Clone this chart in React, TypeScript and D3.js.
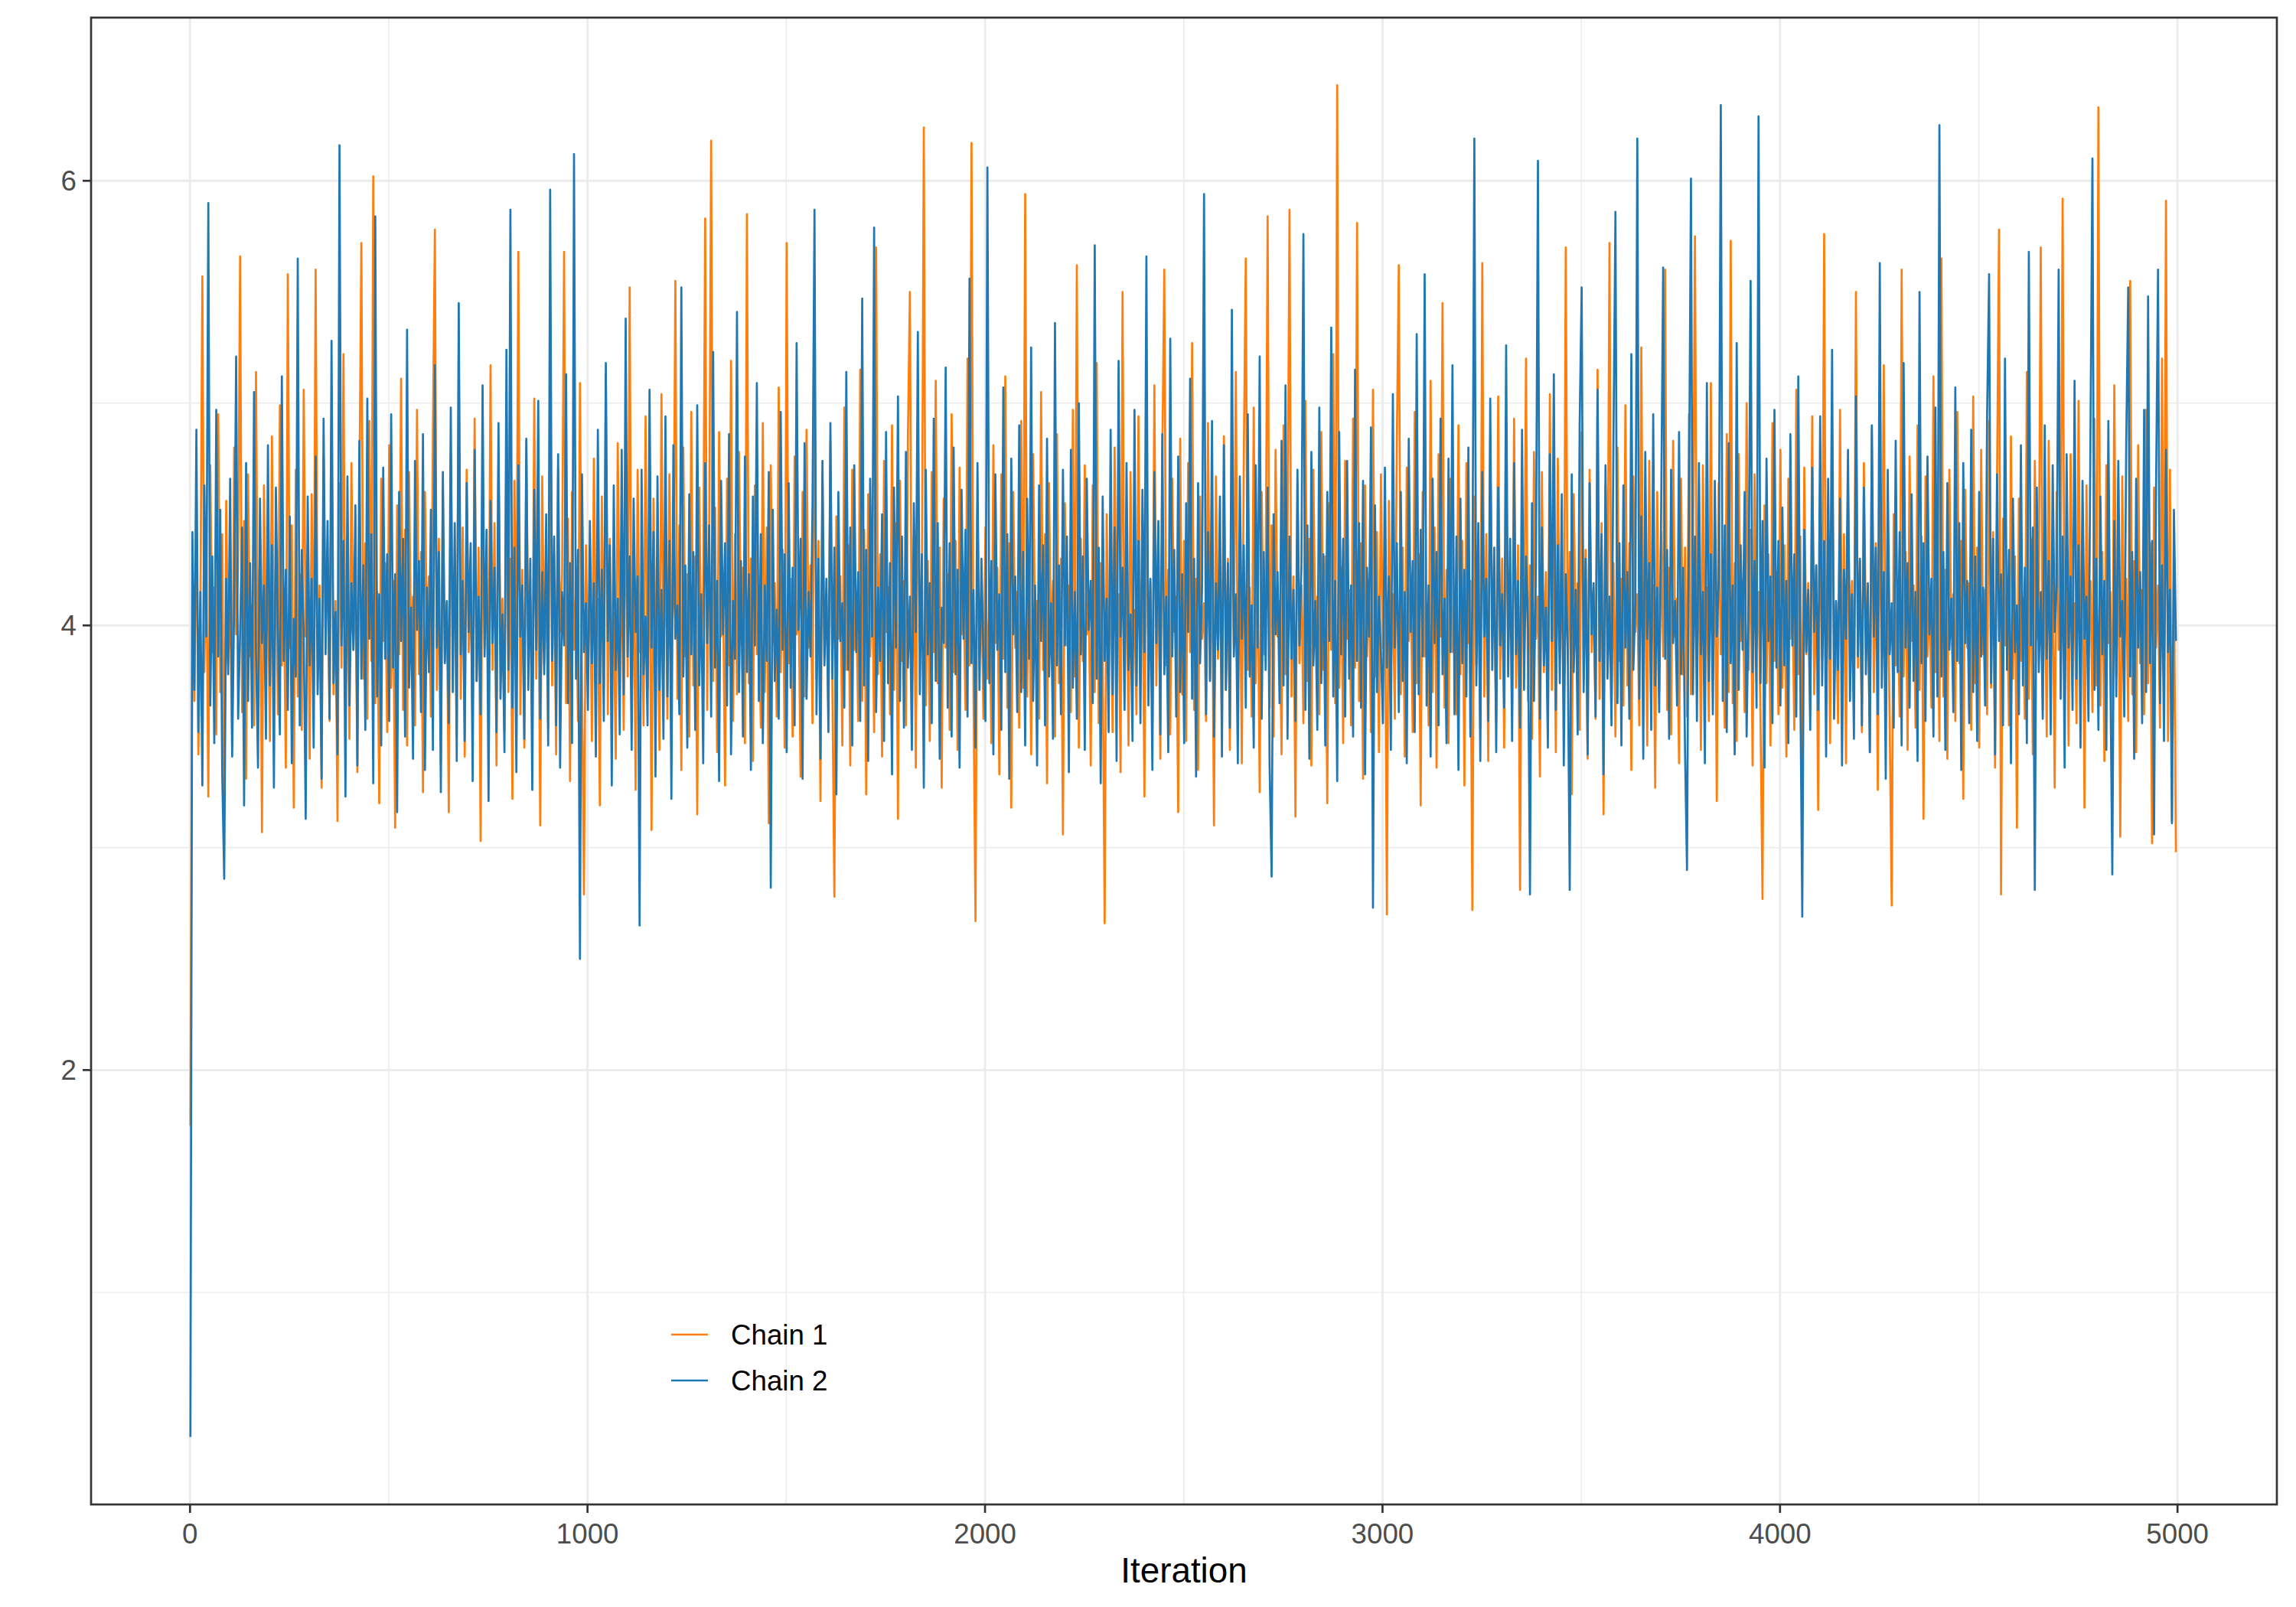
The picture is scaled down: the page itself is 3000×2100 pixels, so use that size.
import React, { useEffect, useRef } from "react";
import * as d3 from "d3";

// trace of two MCMC chains, one stored draw every 5 iterations
const chainNames = ["Chain 1", "Chain 2"];
const chainColors = ["#ff7f0e", "#1f77b4"];
const iterStep = 5;
const nIter = 5000;

const xTicks = [0, 1000, 2000, 3000, 4000, 5000];
const xMinorTicks = [500, 1500, 2500, 3500, 4500];
const yTicks = [2, 4, 6];
const yMinorTicks = [1, 3, 5];

// Chain 1, iterations 1-1000
const chain1Part1 = [
  1.75, 4.28, 3.66, 4.61, 3.42, 4.05, 5.57, 3.79, 4.34, 3.23, 4.72, 3.88, 4.17, 3.51, 4.95, 3.7, 4.41, 3.14, 4.56, 3.83,
  4.12, 3.45, 4.8, 3.96, 4.26, 5.66, 3.61, 4.47, 3.31, 4.68, 3.86, 4.09, 3.55, 5.14, 3.74, 4.38, 3.07, 4.63, 3.92, 4.2,
  3.48, 4.85, 3.77, 4.31, 3.6, 4.99, 3.82, 4.14, 3.36, 5.58, 3.9, 4.45, 3.18, 4.7, 3.68, 4.23, 3.53, 5.06, 3.95, 4.36,
  3.4, 4.59, 3.73, 5.6, 3.85, 4.18, 3.27, 4.76, 3.97, 4.3, 3.57, 4.88, 3.69, 4.11, 3.12, 4.64, 3.81, 5.22, 3.63, 4.4,
  3.49, 4.73, 3.89, 4.24, 3.34, 4.57, 5.72, 3.76, 4.37, 3.58, 4.92, 3.84, 6.02, 3.65, 4.15, 3.2, 4.66, 3.93, 4.28, 3.52,
  4.81, 3.72, 4.2, 3.09, 4.54, 3.87, 5.11, 3.62, 4.43, 3.46, 4.69, 3.91, 4.13, 3.55, 4.97, 3.78, 4.33, 3.25, 4.6, 3.98,
  4.22, 3.59, 4.86, 5.78, 3.71, 4.39, 3.38, 4.62, 3.84, 4.1, 3.16, 4.77, 3.95, 4.27, 3.5, 5.26, 3.67, 4.44, 3.41, 4.7,
  3.88, 4.16, 3.56, 4.93, 3.75, 4.35, 3.03, 4.58, 3.9, 4.21, 3.63, 5.17, 3.8, 4.46, 3.37, 4.74, 3.96, 4.12, 3.52, 4.89,
  3.7, 4.3, 3.22, 4.65, 3.86, 5.68, 3.6, 4.25, 3.45, 4.83, 3.92, 4.14, 3.58, 5.02, 3.76, 4.4, 3.1, 4.67, 3.83, 4.19,
  3.54, 4.9, 3.73, 4.32, 3.42, 4.71, 3.97, 4.23, 5.68, 3.65, 4.48, 3.3, 4.6, 3.89, 4.17, 3.57, 5.09, 3.78, 2.79, 4.36,
];

// Chain 1, iterations 1001-2000
const chain1Part2 = [
  3.81, 4.27, 3.48, 4.75, 3.93, 4.12, 3.19, 4.58, 3.72, 5.13, 3.6, 4.39, 3.85, 4.06, 3.4, 4.82, 3.96, 4.24, 3.53, 4.64,
  3.77, 5.52, 3.63, 4.33, 3.26, 4.7, 3.88, 4.16, 3.55, 4.94, 3.71, 4.42, 3.08, 4.57, 3.91, 4.2, 3.44, 5.04, 3.8, 4.35,
  3.58, 4.68, 3.94, 4.1, 5.55, 3.67, 4.45, 3.35, 4.8, 3.86, 4.23, 3.5, 4.96, 3.73, 4.31, 3.15, 4.62, 3.9, 4.18, 5.83,
  3.62, 4.37, 6.18, 3.75, 4.53, 3.43, 4.87, 3.95, 4.14, 3.28, 4.66, 3.82, 5.19, 3.57, 4.41, 3.69, 4.78, 3.98, 4.26, 3.47,
  5.85, 3.74, 4.3, 3.39, 4.63, 3.87, 4.09, 3.54, 4.91, 3.7, 4.44, 3.11, 4.72, 3.92, 4.19, 3.59, 5.07, 3.79, 4.34, 3.45,
  5.72, 3.83, 4.21, 3.5, 4.76, 3.96, 4.13, 3.32, 4.6, 3.68, 4.88, 3.9, 4.27, 3.56, 5.23, 3.76, 4.38, 3.21, 4.67, 3.85,
  4.15, 3.61, 4.83, 3.73, 2.78, 4.49, 3.94, 4.22, 3.46, 4.98, 3.8, 4.36, 3.37, 4.7, 3.89, 4.1, 3.57, 5.15, 3.66, 4.43,
  3.24, 4.59, 3.86, 4.25, 3.52, 5.7, 3.78, 4.32, 3.41, 4.74, 3.97, 4.17, 3.6, 4.9, 3.71, 4.46, 3.13, 4.65, 3.84, 4.2,
  3.55, 4.85, 5.5, 3.69, 4.4, 3.36, 4.78, 3.93, 4.12, 6.24, 3.64, 4.29, 3.48, 4.69, 3.88, 5.1, 3.74, 4.35, 3.27, 4.57,
  3.9, 4.23, 3.53, 4.95, 3.79, 4.38, 3.44, 4.71, 3.96, 4.14, 3.62, 5.2, 3.82, 6.17, 3.7, 2.67, 4.52, 3.87, 4.18, 3.58,
];

// Chain 1, iterations 2001-3000
const chain1Part3 = [
  4.44, 3.76, 4.09, 3.47, 4.81, 3.92, 4.26, 3.33, 4.68, 3.85, 5.12, 3.63, 4.37, 3.18, 4.6, 3.9, 4.15, 3.54, 4.92, 3.72,
  5.94, 3.68, 4.33, 3.42, 4.77, 3.95, 4.11, 3.58, 5.05, 3.8, 4.41, 3.29, 4.64, 3.87, 4.2, 3.5, 4.86, 3.74, 4.3, 3.06,
  4.55, 3.91, 4.18, 3.61, 4.97, 3.77, 5.62, 3.45, 4.39, 3.84, 4.72, 3.96, 4.12, 3.37, 4.63, 3.7, 5.18, 3.56, 4.28, 3.88,
  2.66, 4.5, 3.79, 4.24, 3.52, 4.8, 3.93, 4.14, 3.34, 5.5, 3.67, 4.36, 3.46, 4.69, 3.86, 4.07, 3.6, 4.94, 3.75, 4.32,
  3.23, 4.61, 3.89, 4.19, 3.55, 5.08, 3.73, 4.43, 3.4, 4.75, 5.6, 3.82, 4.25, 3.51, 4.66, 3.97, 4.13, 3.16, 4.84, 3.69,
  4.38, 3.48, 4.73, 3.88, 5.27, 3.62, 4.21, 3.35, 4.58, 3.94, 4.1, 3.57, 4.91, 3.76, 4.34, 3.1, 4.67, 3.85, 4.23, 3.53,
  4.85, 3.71, 4.3, 3.44, 4.62, 3.9, 5.14, 3.66, 4.4, 3.38, 4.76, 5.65, 3.8, 4.17, 3.59, 4.98, 3.74, 4.27, 3.25, 4.6,
  3.87, 4.15, 5.84, 3.63, 4.45, 3.5, 4.79, 3.95, 4.11, 3.42, 4.9, 3.78, 4.35, 5.87, 3.68, 4.22, 3.14, 4.64, 3.83, 4.18,
  3.56, 5.01, 3.75, 4.39, 3.37, 4.7, 3.92, 4.13, 3.6, 4.87, 3.8, 4.31, 3.2, 4.55, 3.89, 5.22, 3.65, 6.43, 3.72, 4.26,
  3.47, 4.74, 3.94, 4.16, 3.55, 4.93, 3.81, 5.81, 3.66, 4.37, 3.31, 4.63, 3.86, 4.2, 3.52, 5.06, 3.77, 4.42, 3.43, 4.68,
];

// Chain 1, iterations 3001-4000
const chain1Part4 = [
  3.9, 4.29, 2.7, 4.56, 3.79, 4.14, 3.58, 4.82, 5.62, 3.69, 4.35, 3.41, 4.71, 3.93, 4.18, 3.52, 4.96, 3.74, 4.32, 3.19,
  4.6, 3.86, 4.1, 3.55, 5.1, 3.7, 4.44, 3.36, 4.77, 3.95, 5.45, 3.63, 4.25, 3.47, 4.66, 3.88, 4.12, 3.6, 4.9, 3.78,
  4.38, 3.28, 4.73, 3.92, 4.2, 2.72, 4.58, 3.82, 4.15, 3.54, 5.63, 3.68, 4.41, 3.39, 4.84, 3.97, 4.11, 3.57, 5.03, 3.76,
  4.3, 3.45, 4.65, 3.89, 4.22, 3.6, 4.93, 3.72, 4.36, 2.81, 4.62, 3.85, 5.2, 3.66, 4.27, 3.49, 4.78, 3.94, 4.13, 3.32,
  4.69, 3.79, 4.24, 3.56, 5.04, 3.71, 4.4, 3.43, 4.75, 3.9, 4.16, 3.62, 5.7, 3.83, 4.33, 3.24, 4.59, 3.96, 4.19, 3.53,
  4.87, 3.75, 4.34, 3.4, 4.7, 3.88, 4.09, 3.58, 5.15, 3.67, 4.46, 3.15, 4.63, 3.92, 5.72, 3.61, 4.28, 3.5, 4.8, 3.84,
  4.21, 3.64, 4.99, 3.73, 4.37, 3.35, 4.67, 3.97, 4.14, 3.55, 5.25, 3.81, 4.3, 3.46, 4.74, 3.89, 4.18, 3.27, 4.6, 3.7,
  4.42, 3.86, 5.6, 3.62, 4.26, 3.51, 4.83, 3.95, 4.12, 3.38, 4.66, 3.78, 4.35, 3.59, 4.95, 3.69, 4.22, 5.75, 3.83, 4.31,
  3.44, 4.72, 3.91, 4.17, 3.57, 5.09, 3.76, 4.39, 3.21, 4.64, 3.87, 4.11, 3.54, 4.86, 3.7, 5.73, 3.65, 4.28, 3.48, 4.77,
  3.93, 4.2, 3.61, 5.0, 3.8, 4.43, 3.37, 4.68, 3.89, 4.15, 3.56, 2.77, 4.54, 3.74, 4.32, 3.46, 4.91, 3.84, 4.24, 3.6,
];

// Chain 1, iterations 4001-5000
const chain1Part5 = [
  4.79, 3.72, 4.36, 3.41, 4.66, 3.94, 4.13, 3.53, 5.06, 3.78, 4.4, 3.3, 4.71, 3.87, 4.19, 3.62, 4.94, 3.69, 4.27, 3.17,
  4.58, 3.85, 5.76, 3.66, 4.34, 3.47, 4.8, 3.92, 4.1, 3.56, 4.97, 3.75, 4.41, 3.38, 4.64, 3.9, 4.2, 3.6, 5.5, 3.81,
  4.29, 3.52, 4.73, 3.96, 4.15, 3.43, 4.88, 3.7, 4.37, 3.26, 4.62, 3.88, 5.17, 3.64, 4.23, 3.55, 2.74, 4.5, 3.82, 4.12,
  3.59, 5.6, 3.77, 4.33, 3.44, 4.76, 3.93, 4.18, 3.54, 4.9, 3.71, 4.4, 3.13, 4.67, 3.86, 4.11, 3.63, 5.12, 3.79, 4.3,
  3.48, 5.65, 3.68, 4.25, 3.4, 4.7, 3.95, 4.14, 3.57, 4.96, 3.83, 4.38, 3.22, 4.61, 3.9, 4.19, 3.53, 5.03, 3.74, 4.35,
  3.45, 4.79, 3.87, 4.16, 3.6, 4.92, 3.72, 4.42, 3.36, 4.65, 5.78, 2.79, 4.48, 3.91, 4.21, 3.55, 4.85, 3.76, 4.31, 3.09,
  4.57, 3.84, 4.12, 3.58, 5.14, 3.67, 4.39, 3.42, 4.74, 3.94, 4.17, 5.7, 3.62, 4.28, 3.5, 4.83, 3.8, 4.23, 3.27, 4.6,
  3.89, 4.14, 5.92, 3.7, 4.36, 3.46, 4.77, 3.97, 4.1, 3.56, 5.01, 3.78, 4.44, 3.18, 4.63, 3.86, 4.2, 3.61, 4.93, 3.73,
  6.33, 3.64, 4.33, 3.39, 4.72, 3.92, 4.15, 3.52, 5.08, 3.77, 4.4, 3.05, 4.67, 3.88, 4.21, 3.57, 5.55, 3.69, 4.29, 3.43,
  4.81, 3.83, 4.16, 3.6, 4.97, 3.74, 4.37, 3.02, 4.62, 3.9, 4.18, 3.54, 5.2, 3.71, 5.91, 3.48, 4.7, 3.12, 4.26, 2.98,
];

// Chain 2, iterations 1-1000
const chain2Part1 = [
  0.35, 4.42, 3.71, 4.88, 3.52, 4.15, 3.28, 4.63, 3.95, 5.9, 3.64, 4.31, 3.47, 4.97, 3.86, 4.52, 3.33, 2.86, 4.21, 3.78,
  4.66, 3.41, 4.09, 5.21, 3.58, 3.97, 4.44, 3.19, 4.73, 3.66, 4.28, 3.54, 5.05, 3.88, 3.36, 4.57, 3.92, 4.18, 3.49, 4.81,
  3.73, 4.36, 3.27, 4.62, 3.99, 3.51, 5.12, 3.84, 4.25, 3.62, 4.49, 3.38, 4.03, 3.77, 5.65, 3.55, 4.34, 3.96, 3.13, 4.58,
  3.82, 4.21, 3.45, 4.76, 3.69, 4.12, 3.31, 4.93, 3.87, 4.47, 3.58, 5.28, 3.74, 4.06, 3.42, 6.16, 3.91, 4.38, 3.23, 4.67,
  3.64, 4.19, 3.89, 4.54, 3.37, 4.83, 3.76, 4.27, 3.53, 5.02, 3.94, 4.41, 3.29, 5.84, 3.68, 4.14, 3.46, 4.71, 3.85, 4.32,
  3.57, 4.95, 3.81, 4.23, 3.16, 4.6, 3.93, 4.39, 3.5, 5.33, 3.72, 4.08, 3.4, 4.74, 3.98, 4.29, 3.61, 4.86, 3.35, 4.17,
  3.79, 4.52, 3.44, 5.17, 3.9, 4.33, 3.25, 4.69, 3.83, 4.11, 3.56, 4.98, 3.7, 4.46, 3.39, 5.45, 3.87, 4.2, 3.48, 4.64,
  3.97, 4.37, 3.3, 4.79, 3.75, 4.13, 3.6, 5.08, 3.86, 4.43, 3.21, 4.56, 3.92, 4.26, 3.52, 4.91, 3.67, 4.05, 3.43, 5.24,
  3.8, 5.87, 3.63, 4.35, 3.34, 4.72, 3.95, 4.18, 3.49, 4.84, 3.71, 4.3, 3.26, 4.61, 3.89, 5.01, 3.58, 4.24, 3.78, 4.5,
  3.46, 5.96, 3.84, 4.4, 3.55, 4.77, 3.36, 4.15, 3.91, 5.13, 3.65, 4.28, 3.47, 6.12, 3.76, 4.34, 2.5, 4.68, 3.88, 4.1,
];

// Chain 2, iterations 1001-2000
const chain2Part2 = [
  3.62, 4.47, 3.83, 4.19, 3.41, 4.88, 3.74, 4.25, 3.57, 5.18, 3.93, 4.36, 3.28, 4.63, 3.8, 4.12, 3.51, 4.79, 3.69, 5.38,
  3.86, 4.31, 3.44, 4.57, 3.97, 4.22, 2.65, 4.7, 3.78, 4.04, 3.55, 5.06, 3.9, 4.42, 3.32, 4.67, 3.71, 4.16, 3.49, 4.94,
  3.68, 4.38, 3.22, 4.81, 3.94, 4.09, 3.6, 5.52, 3.77, 4.27, 3.45, 4.59, 3.87, 4.33, 3.53, 4.99, 3.73, 4.14, 3.38, 4.73,
  3.92, 4.45, 3.59, 5.23, 3.81, 4.2, 3.3, 4.65, 3.96, 4.37, 3.64, 4.86, 3.42, 4.11, 3.85, 5.41, 3.7, 4.29, 3.5, 4.76,
  3.79, 4.23, 3.35, 4.58, 3.91, 5.09, 3.66, 4.41, 3.47, 4.18, 3.84, 4.69, 2.82, 4.52, 3.75, 4.07, 3.58, 4.96, 3.89, 4.32,
  3.43, 4.64, 3.72, 4.26, 3.55, 5.27, 3.98, 4.39, 3.31, 4.82, 3.67, 4.15, 3.86, 4.54, 5.87, 3.6, 4.3, 3.4, 4.74, 3.82,
  4.21, 3.52, 4.91, 3.76, 4.35, 3.24, 4.6, 3.93, 4.1, 3.63, 5.14, 3.8, 4.44, 3.46, 4.72, 3.88, 4.24, 3.57, 5.47, 3.73,
  4.34, 3.39, 4.66, 3.95, 5.79, 3.61, 4.17, 3.84, 4.5, 3.48, 4.87, 3.74, 4.28, 3.33, 4.62, 3.9, 5.03, 3.66, 4.4, 3.54,
  4.78, 3.81, 4.13, 3.44, 4.55, 3.97, 5.32, 3.69, 4.32, 3.27, 4.7, 3.87, 4.19, 3.56, 4.93, 3.75, 4.46, 3.4, 4.08, 3.92,
  5.16, 3.63, 4.37, 3.5, 4.8, 3.78, 4.25, 3.36, 4.61, 3.94, 4.43, 3.59, 5.56, 3.83, 4.16, 3.45, 4.73, 3.71, 4.3, 3.86,
];

// Chain 2, iterations 2001-3000
const chain2Part3 = [
  3.57, 6.06, 3.74, 4.29, 3.42, 4.68, 3.89, 4.14, 3.53, 5.07, 3.79, 4.41, 3.31, 4.75, 3.96, 4.22, 3.61, 4.9, 3.7, 4.33,
  3.46, 4.57, 3.85, 5.25, 3.66, 4.18, 3.37, 4.63, 3.93, 4.36, 3.55, 4.84, 3.77, 4.1, 3.49, 5.36, 3.82, 4.27, 3.6, 4.7,
  3.91, 4.4, 3.34, 4.79, 3.72, 4.15, 3.58, 5.0, 3.87, 4.31, 3.44, 4.66, 3.98, 4.2, 3.65, 5.71, 3.76, 4.35, 3.29, 4.58,
  3.84, 4.12, 3.52, 4.88, 3.69, 4.44, 3.39, 5.19, 3.95, 4.26, 3.62, 4.73, 3.8, 4.05, 3.48, 4.97, 3.73, 4.38, 3.56, 4.61,
  3.88, 5.66, 3.64, 4.21, 3.35, 4.69, 3.92, 4.47, 3.51, 4.86, 3.78, 4.13, 3.43, 5.29, 3.86, 4.34, 3.59, 4.76, 3.7, 4.23,
  3.47, 4.55, 3.97, 5.11, 3.67, 4.3, 3.32, 4.64, 3.83, 4.17, 5.94, 3.6, 4.42, 3.75, 4.92, 3.5, 4.19, 3.89, 4.58, 3.41,
  4.81, 3.71, 4.28, 3.54, 5.42, 3.86, 4.14, 3.38, 4.67, 3.94, 4.36, 3.63, 4.95, 3.77, 4.09, 3.45, 4.72, 3.9, 5.21, 3.58,
  4.33, 3.8, 4.62, 3.36, 2.87, 4.5, 3.96, 4.24, 3.65, 4.83, 3.73, 5.08, 3.49, 4.4, 3.85, 4.16, 3.57, 4.7, 3.91, 4.27,
  5.76, 3.62, 4.45, 3.4, 4.78, 3.82, 4.11, 3.53, 4.98, 3.74, 4.32, 3.46, 4.6, 3.93, 5.34, 3.68, 4.2, 3.3, 4.87, 3.87,
  4.39, 3.59, 4.74, 3.76, 4.18, 3.5, 5.15, 3.84, 4.46, 3.63, 4.65, 3.33, 4.26, 3.95, 4.89, 2.73, 4.54, 3.7, 4.13, 3.88,
];

// Chain 2, iterations 3001-4000
const chain2Part4 = [
  3.56, 4.71, 3.81, 4.22, 3.44, 5.04, 3.9, 4.37, 3.61, 4.6, 3.75, 4.15, 3.38, 4.84, 3.97, 4.29, 3.52, 5.31, 3.69, 4.43,
  3.86, 5.58, 3.64, 4.18, 3.41, 4.66, 3.92, 4.33, 3.55, 4.93, 3.78, 4.12, 3.47, 4.75, 3.88, 5.17, 3.6, 4.4, 3.35, 4.57,
  3.83, 4.25, 3.68, 4.8, 3.5, 4.1, 6.19, 3.73, 4.46, 3.39, 4.69, 3.95, 4.21, 3.57, 5.02, 3.8, 4.35, 3.43, 4.62, 3.91,
  4.14, 3.63, 5.26, 3.77, 4.39, 3.48, 4.73, 3.87, 4.2, 3.54, 4.88, 3.71, 4.31, 3.98, 2.79, 4.55, 3.66, 4.27, 6.09, 3.58,
  4.44, 3.82, 4.08, 3.45, 4.77, 3.93, 5.13, 3.62, 4.36, 3.74, 4.59, 3.37, 4.23, 3.89, 2.81, 4.68, 3.79, 4.16, 3.51, 4.91,
  5.52, 3.7, 4.3, 3.42, 4.64, 3.96, 4.19, 3.59, 5.06, 3.84, 4.41, 3.33, 4.72, 3.76, 4.13, 3.55, 4.85, 5.86, 3.65, 4.37,
  3.46, 4.63, 3.9, 4.24, 3.58, 5.22, 3.8, 4.09, 6.19, 3.67, 4.49, 3.4, 4.78, 3.94, 4.28, 3.53, 4.95, 3.73, 4.17, 3.61,
  4.52, 5.61, 3.85, 4.34, 3.49, 4.7, 3.92, 4.11, 3.64, 4.87, 3.78, 4.26, 3.44, 2.9, 4.58, 6.01, 3.69, 4.4, 3.57, 4.73,
  3.87, 4.15, 3.38, 5.09, 3.75, 4.32, 3.6, 4.65, 3.95, 4.21, 6.34, 3.66, 4.45, 3.52, 4.82, 3.83, 4.18, 3.42, 5.27, 3.71,
  4.36, 3.89, 4.6, 3.5, 4.13, 5.55, 3.79, 4.29, 3.63, 6.29, 3.74, 4.47, 3.36, 4.75, 3.93, 4.22, 3.56, 4.97, 3.81, 4.38,
];

// Chain 2, iterations 4001-5000
const chain2Part5 = [
  3.64, 4.53, 3.82, 4.2, 3.47, 4.86, 3.91, 4.32, 3.59, 5.12, 3.76, 2.69, 4.43, 3.88, 4.16, 3.53, 4.71, 3.97, 4.27, 3.62,
  4.94, 3.73, 4.38, 3.41, 4.66, 3.85, 5.24, 3.58, 4.11, 3.8, 4.57, 3.37, 4.25, 3.94, 4.79, 3.66, 4.14, 3.49, 5.03, 3.86,
  4.3, 3.55, 4.62, 3.78, 4.19, 3.43, 4.9, 3.95, 4.35, 3.6, 5.63, 3.72, 4.24, 3.31, 4.7, 3.87, 4.1, 3.54, 4.83, 3.79,
  4.42, 3.46, 5.18, 3.9, 4.28, 3.63, 4.59, 3.75, 4.15, 3.39, 5.5, 3.83, 4.37, 3.57, 4.76, 3.96, 4.21, 3.5, 4.98, 3.68,
  6.25, 3.77, 4.33, 3.44, 4.64, 3.89, 4.12, 3.61, 5.07, 3.84, 4.46, 3.35, 4.73, 3.92, 4.2, 3.56, 4.88, 3.7, 4.31, 3.48,
  4.6, 3.86, 4.17, 3.64, 4.95, 5.58, 3.74, 4.39, 3.42, 4.68, 3.93, 4.23, 3.55, 5.2, 3.8, 4.34, 3.38, 4.57, 3.88, 4.09,
  3.6, 4.81, 3.73, 4.26, 3.47, 5.68, 3.91, 4.44, 2.81, 4.62, 3.79, 4.15, 3.58, 4.9, 3.85, 4.29, 3.51, 4.72, 3.97, 4.18,
  5.6, 3.67, 4.4, 3.36, 4.77, 3.9, 4.22, 3.62, 5.1, 3.76, 4.36, 3.45, 4.65, 3.94, 4.13, 3.57, 4.86, 6.1, 3.71, 4.3,
  3.53, 4.58, 3.87, 4.2, 3.44, 4.92, 3.8, 2.88, 4.47, 3.68, 4.74, 3.95, 4.11, 3.59, 4.83, 5.52, 3.77, 4.33, 3.4, 4.66,
  3.9, 4.24, 3.56, 4.97, 3.7, 5.48, 3.83, 4.38, 3.06, 4.61, 5.6, 3.65, 4.27, 3.48, 4.79, 3.88, 4.16, 3.11, 4.52, 3.93,
];

const chain1 = [...chain1Part1, ...chain1Part2, ...chain1Part3, ...chain1Part4, ...chain1Part5];
const chain2 = [...chain2Part1, ...chain2Part2, ...chain2Part3, ...chain2Part4, ...chain2Part5];
const chains = [chain1, chain2];

const W = 3000;
const H = 2100;
const panel = { left: 119, right: 2975, top: 23, bottom: 1966 };
const FONT = "'Liberation Sans', Arial, Helvetica, sans-serif";

export default function App() {
  const svgRef = useRef<SVGSVGElement>(null);

  useEffect(() => {
    if (!svgRef.current) return;
    const svg = d3.select(svgRef.current);
    svg.selectAll("*").remove();

    // ggplot-style 5% expansion
    const xPad = (nIter - 1) * 0.05;
    const x = d3
      .scaleLinear()
      .domain([1 - xPad, nIter + xPad])
      .range([panel.left, panel.right]);

    const allVals = [...chain1, ...chain2];
    const [yMin, yMax] = d3.extent(allVals) as [number, number];
    const yPad = (yMax - yMin) * 0.05;
    const y = d3
      .scaleLinear()
      .domain([yMin - yPad, yMax + yPad])
      .range([panel.bottom, panel.top]);

    svg.append("rect").attr("width", W).attr("height", H).attr("fill", "#ffffff");

    const grid = svg.append("g");
    // minor grid
    grid
      .selectAll(".xminor")
      .data(xMinorTicks)
      .enter()
      .append("line")
      .attr("x1", (d) => x(d))
      .attr("x2", (d) => x(d))
      .attr("y1", panel.top)
      .attr("y2", panel.bottom)
      .attr("stroke", "#EBEBEB")
      .attr("stroke-width", 1.4);
    grid
      .selectAll(".yminor")
      .data(yMinorTicks)
      .enter()
      .append("line")
      .attr("x1", panel.left)
      .attr("x2", panel.right)
      .attr("y1", (d) => y(d))
      .attr("y2", (d) => y(d))
      .attr("stroke", "#EBEBEB")
      .attr("stroke-width", 1.4);
    // major grid
    grid
      .selectAll(".xmajor")
      .data(xTicks)
      .enter()
      .append("line")
      .attr("x1", (d) => x(d))
      .attr("x2", (d) => x(d))
      .attr("y1", panel.top)
      .attr("y2", panel.bottom)
      .attr("stroke", "#EBEBEB")
      .attr("stroke-width", 2.8);
    grid
      .selectAll(".ymajor")
      .data(yTicks)
      .enter()
      .append("line")
      .attr("x1", panel.left)
      .attr("x2", panel.right)
      .attr("y1", (d) => y(d))
      .attr("y2", (d) => y(d))
      .attr("stroke", "#EBEBEB")
      .attr("stroke-width", 2.8);

    const line = d3
      .line<number>()
      .x((_, i) => x(i * iterStep + 1))
      .y((d) => y(d));

    svg
      .append("g")
      .selectAll("path")
      .data(chains)
      .enter()
      .append("path")
      .attr("d", (d) => line(d))
      .attr("fill", "none")
      .attr("stroke", (_, i) => chainColors[i])
      .attr("stroke-width", 2.7)
      .attr("stroke-linejoin", "round");

    // panel border
    svg
      .append("rect")
      .attr("x", panel.left)
      .attr("y", panel.top)
      .attr("width", panel.right - panel.left)
      .attr("height", panel.bottom - panel.top)
      .attr("fill", "none")
      .attr("stroke", "#333333")
      .attr("stroke-width", 2.7);

    // axes
    const tickLen = 11;
    const axes = svg.append("g").style("font-family", FONT);

    axes
      .selectAll(".xtick")
      .data(xTicks)
      .enter()
      .append("line")
      .attr("x1", (d) => x(d))
      .attr("x2", (d) => x(d))
      .attr("y1", panel.bottom)
      .attr("y2", panel.bottom + tickLen)
      .attr("stroke", "#333333")
      .attr("stroke-width", 2.7);
    axes
      .selectAll(".xlabel")
      .data(xTicks)
      .enter()
      .append("text")
      .attr("x", (d) => x(d))
      .attr("y", 2017)
      .attr("text-anchor", "middle")
      .attr("fill", "#4D4D4D")
      .style("font-size", "36.7px")
      .text((d) => String(d));

    axes
      .selectAll(".ytick")
      .data(yTicks)
      .enter()
      .append("line")
      .attr("x1", panel.left - tickLen)
      .attr("x2", panel.left)
      .attr("y1", (d) => y(d))
      .attr("y2", (d) => y(d))
      .attr("stroke", "#333333")
      .attr("stroke-width", 2.7);
    axes
      .selectAll(".ylabel")
      .data(yTicks)
      .enter()
      .append("text")
      .attr("x", panel.left - tickLen - 8)
      .attr("y", (d) => y(d) + 13)
      .attr("text-anchor", "end")
      .attr("fill", "#4D4D4D")
      .style("font-size", "36.7px")
      .text((d) => String(d));

    axes
      .append("text")
      .attr("x", (panel.left + panel.right) / 2)
      .attr("y", 2068)
      .attr("text-anchor", "middle")
      .attr("fill", "#000000")
      .style("font-size", "45.8px")
      .text("Iteration");

    // legend inside the panel
    const legend = svg.append("g").style("font-family", FONT);
    const keyY = [1744, 1804];
    chainNames.forEach((name, i) => {
      legend
        .append("line")
        .attr("x1", 877)
        .attr("x2", 925)
        .attr("y1", keyY[i])
        .attr("y2", keyY[i])
        .attr("stroke", chainColors[i])
        .attr("stroke-width", 2.7);
      legend
        .append("text")
        .attr("x", 955)
        .attr("y", keyY[i] + 13)
        .attr("fill", "#000000")
        .style("font-size", "36.7px")
        .text(name);
    });
  }, []);

  return (
    <svg
      ref={svgRef}
      width={W}
      height={H}
      style={{ position: "absolute", left: 0, top: 0, display: "block" }}
    />
  );
}
